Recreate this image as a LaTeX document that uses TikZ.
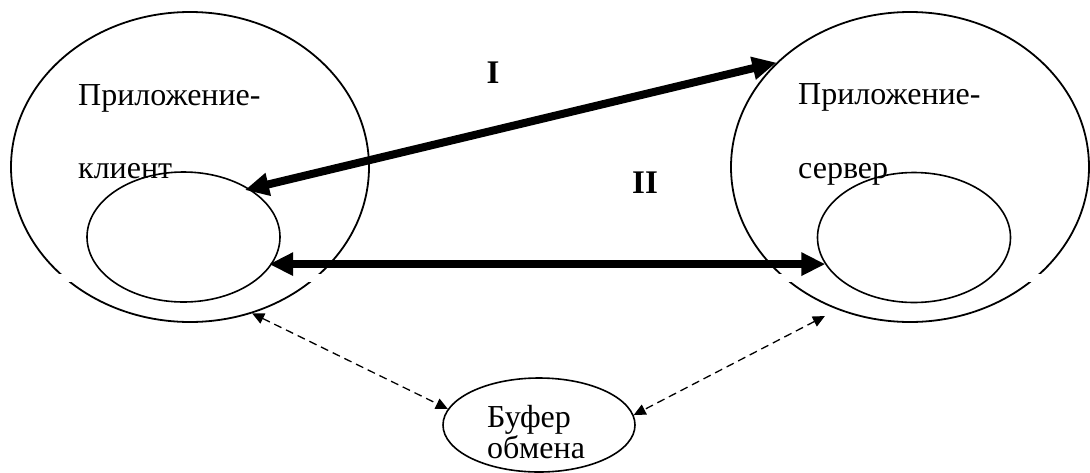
\documentclass[tikz,border=0pt]{standalone}
\usepackage{fontspec}
\setmainfont{Liberation Serif}
\usetikzlibrary{arrows.meta, shapes.geometric}

\begin{document}
\begin{tikzpicture}[
  x=1pt, y=-1pt,
  font=\fontsize{32}{27}\selectfont,
  appbox/.style={
    draw, ellipse, line width=1.8pt, inner sep=0pt,
    minimum width=358pt, minimum height=310pt
  },
  slotbox/.style={
    draw, ellipse, line width=1.6pt, inner sep=0pt,
    minimum width=193pt, minimum height=130pt
  },
  txt/.style={anchor=base west, inner sep=0pt},
  numeral/.style={font=\fontsize{33}{33}\selectfont\bfseries, inner sep=0pt},
  duplex/.style={
    line width=8pt,
    {Triangle[length=24pt, width=22pt]}-{Triangle[length=24pt, width=22pt]}
  },
  exchange/.style={
    line width=1.3pt, dash pattern=on 8pt off 5pt,
    {Triangle[length=12pt, width=11pt]}-{Triangle[length=12pt, width=11pt]}
  }
]
  \useasboundingbox (0,0) rectangle (1090,472);

  \node[appbox] (client) at (190,167) {};
  \node[appbox] (server) at (910,167) {};
  % break in the outer rims
  \fill[white] (40,273.5) rectangle (1060,281.5);

  \node[txt] (clientname) at (78,105) {Приложение-};
  \node[txt] (clientrole) at (78,178) {клиент};
  \node[txt] (servername) at (798,104) {Приложение-};
  \node[txt] (serverrole) at (798,178) {сервер};

  \node[slotbox] (clientslot) at (183.5,237) {};
  \node[slotbox] (serverslot) at (914,237.5) {};

  \node[draw, ellipse, line width=1.6pt, inner sep=0pt,
    minimum width=192pt, minimum height=94pt] (clipboard) at (539,425) {};
  \node[txt] (clipname) at (487,427)
    {\begin{tabular}[t]{@{}l@{}}Буфер\\обмена\end{tabular}};

  \node[numeral] (first) at (493,73) {I};
  \node[numeral] (second) at (645,183) {II};

  \draw[duplex, shorten <=-5pt] (clientslot.36) -- (server.142);
  \draw[duplex, shorten <=-3pt] (clientslot.-17) -- (serverslot.-163 |- clientslot.-17);
  \draw[exchange] (client.-67) -- (clipboard.170);
  \draw[exchange, shorten <=14pt] (server.-117) -- (clipboard.6);
\end{tikzpicture}
\end{document}
